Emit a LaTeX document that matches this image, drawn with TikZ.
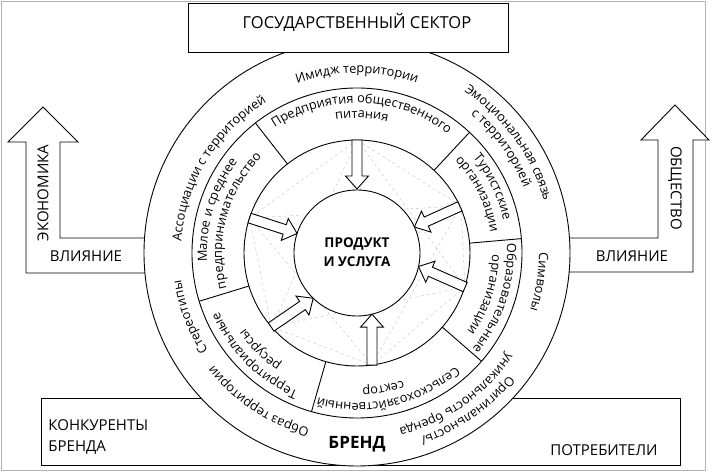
\documentclass[tikz,border=0pt]{standalone}
\usepackage{fontspec}
\setmainfont{Open Sans}
\usetikzlibrary{decorations.text}
\newcommand\fRing{\fontsize{12.8}{15}\selectfont}
\newcommand\fCaps{\fontsize{15}{18}\selectfont}
\newcommand\ringtext[4]{\path[decorate,decoration={text along path,text align=center,text={|#3|#4}}] ({#1+75}:#2) arc[start angle={#1+75},end angle={#1-75},radius=#2];}
\newcommand\barr[4]{\draw[barrow,shift={(#1,#2)},rotate=#3] (0,0) -- (-13,11.5) -- (-13,5) -- (-#4,5) -- (-#4,-5) -- (-13,-5) -- (-13,-11.5) -- cycle;}
\begin{document}
\begin{tikzpicture}[x=1pt,y=1pt,line width=0.9pt,
  barrow/.style={draw=black,fill=white,line width=0.9pt,line join=miter},
  bigarrow/.style={draw=black,fill=white,line width=0.9pt,line join=miter},
  web/.style={draw=gray!40,dashed,line width=0.5pt},
  capstext/.style={font=\fCaps,inner sep=0pt}]
\useasboundingbox (-357,-220) rectangle (355,253);
% frame
\draw[gray!60,line width=0.8pt] (-356,-217) rectangle (348,252);
% bottom box
\draw (-316,-145) rectangle (323,-212);
% big arrows
\draw[bigarrow] (-200,-20) -- (-331,-20) -- (-331,111) -- (-349,111) -- (-314,146) -- (-279,111) -- (-297,111) -- (-297,15) -- (-200,15);
\draw[bigarrow] (200,-19) -- (336,-19) -- (336,113) -- (352,113) -- (318,148) -- (284,113) -- (301,113) -- (301,15) -- (200,15);
% circles
\draw[fill=white] (0,0) circle[radius=213];
\draw (0,0) circle[radius=165];
\draw (0,0) circle[radius=113];
\foreach \a in {128,47,5,-41,-106,197} \draw (\a:113) -- (\a:165);
% web
\coordinate (p1) at (0,113);
\coordinate (p2) at (103.8,47.1);
\coordinate (p3) at (108,-34);
\coordinate (p4) at (15,-112);
\coordinate (p5) at (-85.6,-73.8);
\coordinate (p6) at (-107.5,34.9);
\foreach \i/\j in {1/2,1/3,1/4,1/5,1/6,2/3,2/4,2/5,2/6,3/4,3/5,3/6,4/5,4/6,5/6} \draw[web] (p\i) -- (p\j);
% core
\draw[fill=white] (0,0) circle[radius=63];
\node[align=center,font=\bfseries\fontsize{13.5}{19}\selectfont] (core) at (0,1) {ПРОДУКТ\\И УСЛУГА};
% arrows
\barr{0}{64}{-90}{49}
\barr{57.4}{26.0}{204.4}{50}
\barr{61.5}{-13.5}{156.2}{51}
\barr{15}{-61.2}{90}{51}
\barr{-43.8}{-45.2}{34.4}{51}
\barr{-59.9}{19.5}{-18}{50}
% top box
\draw[fill=white] (-169,250) rectangle (151,201);
\node[font=\fontsize{16.5}{19}\selectfont,inner sep=0pt] (gov) at (0,231) {ГОСУДАРСТВЕННЫЙ СЕКТОР};
% box texts
\node[capstext,anchor=west] (konk) at (-309,-172) {КОНКУРЕНТЫ};
\node[capstext,anchor=west] (konk2) at (-309,-195) {БРЕНДА};
\node[capstext] (potr) at (247,-197) {ПОТРЕБИТЕЛИ};
\node[font=\bfseries\fontsize{17}{20}\selectfont,inner sep=0pt] (brand) at (0,-191) {БРЕНД};
% arrow texts
\node[capstext,rotate=90] (econ) at (-314,60) {ЭКОНОМИКА};
\node[capstext] (vl1) at (-271,-3) {ВЛИЯНИЕ};
\node[capstext,rotate=-90] (obsh) at (318,65) {ОБЩЕСТВО};
\node[capstext] (vl2) at (275,-3) {ВЛИЯНИЕ};
% middle ring labels
\ringtext{88}{150}{\fRing}{Предприятия общественного}
\ringtext{88}{135}{\fRing}{питания}
\ringtext{26}{150}{\fRing}{Туристские}
\ringtext{26}{135}{\fRing}{организации}
\ringtext{-18}{150}{\fRing}{Образовательные}
\ringtext{-18}{135}{\fRing}{организации}
\ringtext{-77}{150}{\fRing}{Сельскохозяйственный}
\ringtext{-79}{135}{\fRing}{сектор}
\ringtext{-135}{150}{\fRing}{Территориальные}
\ringtext{-135}{135}{\fRing}{ресурсы}
\ringtext{163}{150}{\fRing}{Малое и среднее}
\ringtext{165}{135}{\fRing}{предпринимательство}
% outer ring labels
\ringtext{90}{180}{\fRing}{Имидж территории}
\ringtext{148.5}{176}{\fRing}{Ассоциации с территорией}
\ringtext{201}{178}{\fRing}{Стереотипы}
\ringtext{-123.5}{182}{\fRing}{Образ территории}
\ringtext{-9}{182}{\fRing}{Символы}
\ringtext{36}{194}{\fRing}{Эмоциональная связь}
\ringtext{36}{179}{\fRing}{с территорией}
\ringtext{-55}{195}{\fRing}{Оригинальность/}
\ringtext{-55}{180}{\fRing}{уникальность бренда}
\end{tikzpicture}
\end{document}
